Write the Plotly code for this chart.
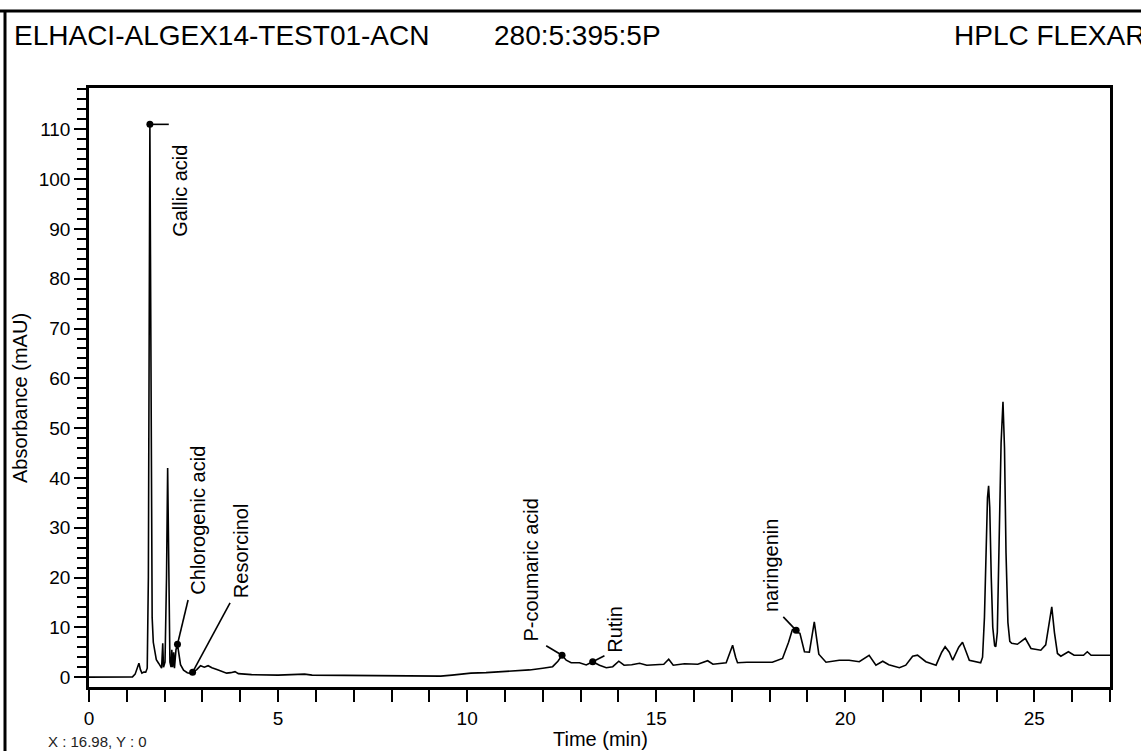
import plotly.graph_objects as go

# ---------------- data ----------------
time_min = [
    0.00, 1.15, 1.22, 1.28, 1.32, 1.36, 1.40, 1.45, 1.50, 1.54, 1.57, 1.61, 1.64,
    1.67, 1.70, 1.74, 1.78, 1.84, 1.88, 1.92, 1.95, 1.97, 2.01, 2.05, 2.08, 2.11,
    2.14, 2.17, 2.19, 2.21, 2.24, 2.26, 2.30, 2.34, 2.37, 2.42, 2.50, 2.60, 2.70,
    2.76, 2.85, 2.95, 3.05, 3.15, 3.25, 3.40, 3.55, 3.64, 3.75, 3.86, 3.95, 4.30,
    5.00, 5.50, 5.70, 5.90, 7.00, 8.20, 9.30, 9.60, 10.10, 10.50, 10.86, 11.20,
    11.65, 12.00, 12.26, 12.40, 12.51, 12.62, 12.75, 12.97, 13.15, 13.32, 13.50,
    13.68, 13.85, 14.01, 14.15, 14.35, 14.56, 14.75, 15.00, 15.20, 15.33, 15.45,
    15.75, 16.10, 16.36, 16.50, 16.85, 16.95, 17.02, 17.10, 17.15, 17.40, 17.70,
    18.07, 18.34, 18.50, 18.60, 18.66, 18.72, 18.80, 18.92, 19.05, 19.18, 19.30,
    19.49, 19.84, 20.10, 20.37, 20.63, 20.81, 20.99, 21.15, 21.43, 21.60, 21.78,
    21.91, 22.13, 22.40, 22.55, 22.64, 22.75, 22.84, 23.00, 23.10, 23.20, 23.28,
    23.58, 23.63, 23.68, 23.73, 23.76, 23.79, 23.82, 23.86, 23.90, 23.95, 23.98,
    24.02, 24.07, 24.12, 24.17, 24.21, 24.25, 24.30, 24.35, 24.40, 24.55, 24.76,
    24.91, 25.17, 25.30, 25.38, 25.46, 25.53, 25.61, 25.70, 25.90, 26.05, 26.30,
    26.40, 26.50, 27.00,
]
absorbance = [
    0.0, 0.05, 0.6, 2.2, 2.8, 1.5, 0.8, 1.0, 1.0, 1.8, 20.0, 111.0, 60.0,
    12.0, 7.0, 5.0, 3.5, 2.8, 2.2, 1.8, 6.8, 2.0, 3.0, 20.0, 42.0, 15.0,
    3.0, 2.0, 5.5, 2.0, 5.0, 1.8, 5.5, 6.6, 5.0, 2.5, 1.4, 0.9, 0.7,
    1.0, 1.5, 2.3, 2.0, 2.3, 1.9, 1.5, 1.0, 0.8, 0.9, 1.1, 0.7, 0.5,
    0.4, 0.5, 0.6, 0.4, 0.3, 0.2, 0.2, 0.4, 0.8, 0.9, 1.1, 1.2,
    1.45, 1.8, 2.1, 3.2, 4.4, 3.4, 2.9, 2.9, 2.45, 3.1, 2.4,
    1.9, 2.1, 3.2, 2.4, 2.5, 2.8, 2.4, 2.5, 2.6, 3.6, 2.4,
    2.7, 2.6, 3.3, 2.6, 2.9, 5.0, 6.4, 4.0, 2.9, 3.0, 3.0,
    3.0, 3.75, 7.0, 9.5, 9.8, 9.0, 8.8, 5.1, 5.0, 11.1, 4.6,
    3.0, 3.4, 3.4, 3.1, 4.4, 2.4, 3.2, 2.5, 1.9, 2.4, 4.2,
    4.4, 3.1, 2.4, 5.0, 6.1, 5.0, 3.4, 6.0, 7.0, 5.0, 3.4,
    2.9, 4.0, 12.0, 28.0, 36.0, 38.4, 34.0, 20.0, 10.0, 6.3, 6.1,
    9.0, 25.0, 47.0, 55.3, 46.0, 25.0, 11.0, 7.2, 6.8, 6.6, 7.8,
    5.75, 5.4, 6.5, 10.0, 14.1, 9.0, 4.75, 4.2, 5.1, 4.4, 4.4,
    5.1, 4.4, 4.4,
]

peak_names = ["Gallic acid", "Chlorogenic acid", "Resorcinol",
              "P-coumaric acid", "Rutin", "naringenin"]
peak_time = [1.61, 2.34, 2.74, 12.51, 13.32, 18.70]
peak_abs = [111.0, 6.6, 1.0, 4.4, 3.1, 9.4]

x_tick_vals = [0, 5, 10, 15, 20, 25]
y_tick_vals = [0, 10, 20, 30, 40, 50, 60, 70, 80, 90, 100, 110]

# ---------------- layout helpers (label placement, not data) ----------------
label_place = [  # text centre (x, y) and leader-line start (x, y)
    (2.40, 97.6, 2.11, 111.0),
    (2.88, 31.6, 2.62, 15.5),
    (4.02, 25.3, 3.73, 14.9),
    (11.70, 21.5, 12.09, 6.3),
    (13.92, 9.6, 13.63, 4.3),
    (18.02, 22.4, 18.36, 12.1),
]

W, H = 1141, 751
L, R, T, B = 89, 31, 88, 64
PW, PH = W - L - R, H - T - B


def px(xpix):
    return (xpix - L) / PW


def py(ypix):
    return (H - B - ypix) / PH


FONT = "Liberation Sans, Arial, Helvetica, sans-serif"

fig = go.Figure()
fig.add_trace(go.Scatter(x=time_min, y=absorbance, mode="lines",
                         line=dict(color="black", width=1.6),
                         hoverinfo="skip", showlegend=False))
fig.add_trace(go.Scatter(x=peak_time, y=peak_abs, mode="markers",
                         marker=dict(color="black", size=7),
                         hoverinfo="skip", showlegend=False))

shapes = []
annotations = []
for name, pt, pa, (tx, ty, lx, ly) in zip(peak_names, peak_time, peak_abs, label_place):
    shapes.append(dict(type="line", xref="x", yref="y", x0=pt, y0=pa, x1=lx, y1=ly,
                       line=dict(color="black", width=1.6)))
    annotations.append(dict(x=tx, y=ty, xref="x", yref="y", text=name, showarrow=False,
                            textangle=-90, xanchor="center", yanchor="middle",
                            font=dict(family=FONT, size=20, color="black")))

# outer frame of the page
shapes.append(dict(type="line", xref="paper", yref="paper", x0=px(0), x1=px(W),
                   y0=py(11), y1=py(11), line=dict(color="black", width=3)))
shapes.append(dict(type="line", xref="paper", yref="paper", x0=px(5), x1=px(5),
                   y0=py(11), y1=py(H), line=dict(color="black", width=3)))

header_font = dict(family=FONT, size=28, color="black")
annotations += [
    dict(x=px(12), y=py(36), xref="paper", yref="paper", text="ELHACI-ALGEX14-TEST01-ACN",
         showarrow=False, xanchor="left", yanchor="middle", font=header_font),
    dict(x=px(492), y=py(36), xref="paper", yref="paper", text="280:5:395:5P",
         showarrow=False, xanchor="left", yanchor="middle", font=header_font),
    dict(x=px(952), y=py(36), xref="paper", yref="paper", text="HPLC FLEXAR",
         showarrow=False, xanchor="left", yanchor="middle", font=header_font),
    dict(x=px(600), y=py(739), xref="paper", yref="paper", text="Time (min)",
         showarrow=False, xanchor="center", yanchor="middle",
         font=dict(family=FONT, size=20, color="black")),
    dict(x=px(20), y=py(398), xref="paper", yref="paper", text="Absorbance (mAU)",
         showarrow=False, xanchor="center", yanchor="middle", textangle=-90,
         font=dict(family=FONT, size=20, color="black")),
    dict(x=px(46), y=py(741), xref="paper", yref="paper", text="X : 16.98, Y : 0",
         showarrow=False, xanchor="left", yanchor="middle",
         font=dict(family=FONT, size=15, color="#222222")),
]

fig.update_layout(
    width=W, height=H,
    margin=dict(l=L, r=R, t=T, b=B, pad=0),
    paper_bgcolor="white", plot_bgcolor="white",
    shapes=shapes, annotations=annotations,
    showlegend=False,
    xaxis=dict(range=[0, 27], tickmode="array", tickvals=x_tick_vals,
               ticks="outside", ticklen=12, tickwidth=1.5, tickcolor="black",
               showline=True, linecolor="black", linewidth=2.5, mirror=True,
               showgrid=False, zeroline=False,
               tickfont=dict(family=FONT, size=19, color="black"),
               minor=dict(dtick=1, tick0=0, ticks="outside", ticklen=12, tickwidth=1.5,
                          tickcolor="black", showgrid=False)),
    yaxis=dict(range=[-1.98, 118.3], tickmode="array", tickvals=y_tick_vals,
               ticks="outside", ticklen=12, tickwidth=1.5, tickcolor="black",
               showline=True, linecolor="black", linewidth=2.5, mirror=True,
               showgrid=False, zeroline=False,
               tickfont=dict(family=FONT, size=19, color="black"),
               minor=dict(dtick=2, tick0=0, ticks="outside", ticklen=9, tickwidth=1.5,
                          tickcolor="black", showgrid=False)),
)

fig.write_html("out.html")
